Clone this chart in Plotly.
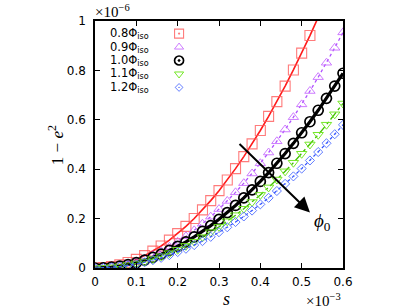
import plotly.graph_objects as go

# ---- data (s in units of 1e-3, 1-e^2 in units of 1e-6) ----
s = [0.00, 0.02, 0.04, 0.06, 0.08, 0.10, 0.12, 0.14, 0.16, 0.18, 0.20,
     0.22, 0.24, 0.26, 0.28, 0.30, 0.32, 0.34, 0.36, 0.38, 0.40,
     0.42, 0.44, 0.46, 0.48, 0.50, 0.52, 0.54, 0.56, 0.58, 0.60]

y08 = [0.0, 0.0014, 0.0056, 0.0125, 0.0223, 0.0348, 0.0501, 0.0682, 0.0891, 0.1128, 0.1392,
       0.1684, 0.2004, 0.2352, 0.2728, 0.3132, 0.3564, 0.4023, 0.4510, 0.5025, 0.5568,
       0.6139, 0.6737, 0.7364, 0.8018, 0.8700, 0.9410, 1.0148]
y09 = [0.0, 0.0011, 0.0042, 0.0095, 0.0170, 0.0265, 0.0382, 0.0519, 0.0678, 0.0859, 0.1060,
       0.1283, 0.1526, 0.1791, 0.2078, 0.2385, 0.2714, 0.3063, 0.3434, 0.3827, 0.4240,
       0.4675, 0.5130, 0.5607, 0.6106, 0.6625, 0.7166, 0.7727, 0.8310, 0.8915, 0.9540]
y10 = [0.0, 0.0009, 0.0035, 0.0079, 0.0140, 0.0219, 0.0315, 0.0429, 0.0561, 0.0710, 0.0876,
       0.1060, 0.1261, 0.1480, 0.1717, 0.1971, 0.2243, 0.2532, 0.2838, 0.3162, 0.3504,
       0.3863, 0.4240, 0.4634, 0.5046, 0.5475, 0.5922, 0.6386, 0.6868, 0.7367, 0.7884]
y11 = [0.0, 0.0007, 0.0030, 0.0067, 0.0118, 0.0185, 0.0266, 0.0363, 0.0474, 0.0599, 0.0740,
       0.0895, 0.1066, 0.1251, 0.1450, 0.1665, 0.1894, 0.2139, 0.2398, 0.2671, 0.2960,
       0.3263, 0.3582, 0.3915, 0.4262, 0.4625, 0.5002, 0.5395, 0.5802, 0.6223, 0.6660]
y12 = [0.0, 0.0006, 0.0026, 0.0058, 0.0103, 0.0161, 0.0232, 0.0316, 0.0412, 0.0522, 0.0644,
       0.0779, 0.0927, 0.1088, 0.1262, 0.1449, 0.1649, 0.1861, 0.2087, 0.2325, 0.2576,
       0.2840, 0.3117, 0.3407, 0.3709, 0.4025, 0.4353, 0.4695, 0.5049, 0.5416, 0.5796]

labels = ["0.8Φ<sub>iso</sub>", "0.9Φ<sub>iso</sub>", "1.0Φ<sub>iso</sub>",
          "1.1Φ<sub>iso</sub>", "1.2Φ<sub>iso</sub>"]
x_ticks = [0, 0.1, 0.2, 0.3, 0.4, 0.5, 0.6]
x_ticktext = ["0", "0.1", "0.2", "0.3", "0.4", "0.5", "0.6"]
y_ticks = [0, 0.2, 0.4, 0.6, 0.8, 1.0]
y_ticktext = ["0", "0.2", "0.4", "0.6", "0.8", "1"]

# ---- styles ----
series = [
    dict(y=y08, nmark=27, lc="#ff1a1a", lw=1.6, dash="solid", mc="rgba(255,90,90,0.8)",
         sym="square-open", ms=10, mw=1.1),
    dict(y=y09, nmark=31, lc="#b050ff", lw=1.3, dash="dot", mc="rgba(200,110,255,0.9)",
         sym="triangle-up-open", ms=9, mw=1.0),
    dict(y=y10, nmark=31, lc="#000000", lw=3.2, dash="solid", mc="#000000",
         sym="circle-open", ms=10, mw=1.7),
    dict(y=y11, nmark=31, lc="#40c000", lw=1.3, dash="dashdot", mc="rgba(110,230,30,0.95)",
         sym="triangle-down-open", ms=9, mw=1.0),
    dict(y=y12, nmark=31, lc="#3050ff", lw=1.2, dash="dot", mc="rgba(80,110,255,0.9)",
         sym="diamond-open-dot", ms=7, mw=1.0),
]
leg_syms = ["square-open-dot", "triangle-up-open", "circle-open-dot",
            "triangle-down-open", "diamond-open-dot"]

sans = "DejaVu Sans"
serif = "Liberation Serif"

fig = go.Figure()
for st in series:
    n = len(st["y"])
    fig.add_trace(go.Scatter(x=s[:n], y=st["y"], mode="lines",
                             line=dict(color=st["lc"], width=st["lw"], dash=st["dash"]),
                             showlegend=False, hoverinfo="skip"))
    k = st["nmark"]
    fig.add_trace(go.Scatter(x=s[:k], y=st["y"][:k], mode="markers",
                             marker=dict(symbol=st["sym"], size=st["ms"],
                                         color=st["mc"], line=dict(width=st["mw"], color=st["mc"])),
                             showlegend=False, hoverinfo="skip"))

# legend markers on a hidden overlay axis (0..1 both ways = plot area)
leg_x = 0.339
leg_top = 0.949
leg_step = 0.0545
for i, st in enumerate(series):
    fig.add_trace(go.Scatter(x=[leg_x], y=[leg_top - i * leg_step], mode="markers",
                             xaxis="x2", yaxis="y2",
                             marker=dict(symbol=leg_syms[i], size=st["ms"] - 1,
                                         color=st["mc"], line=dict(width=st["mw"], color=st["mc"])),
                             showlegend=False, hoverinfo="skip"))
    fig.add_annotation(x=0.226, y=leg_top - i * leg_step, xref="x2", yref="y2",
                       text=labels[i], showarrow=False, xanchor="right", yanchor="middle",
                       font=dict(family=sans, size=11.5, color="black"))

axis_common = dict(showline=True, linecolor="black", linewidth=1.5, mirror="allticks",
                   ticks="inside", ticklen=5, tickwidth=1, tickcolor="black",
                   showgrid=False, zeroline=False,
                   tickfont=dict(family=sans, size=12, color="black"))

fig.update_layout(
    width=416, height=308,
    margin=dict(l=95, r=73, t=21, b=40),
    paper_bgcolor="white", plot_bgcolor="white",
    xaxis=dict(range=[0, 0.6], tickvals=x_ticks, ticktext=x_ticktext,
               ticklabelstandoff=2, **axis_common),
    yaxis=dict(range=[0, 1], tickvals=y_ticks, ticktext=y_ticktext,
               ticklabelstandoff=5, **axis_common),
    xaxis2=dict(range=[0, 1], overlaying="x", visible=False),
    yaxis2=dict(range=[0, 1], overlaying="y", visible=False),
)

# pixel -> paper helpers (plot area: x 95..343, y 21..267.7)
def px(xp):
    return (xp - 95) / 248.0

def py(yp):
    return (267.7 - yp) / 246.7

# arrow
fig.add_annotation(x=0.52, y=0.225, ax=0.346, ay=0.508, xref="x", yref="y",
                   axref="x", ayref="y", showarrow=True, arrowhead=2, arrowsize=1.5,
                   arrowwidth=2, arrowcolor="black", text="")
fig.add_annotation(x=px(322), y=py(222), xref="paper", yref="paper", text="<i>ϕ</i><sub>0</sub>",
                   xanchor="center", yanchor="middle",
                   showarrow=False, font=dict(family=serif, size=19, color="black"))
# exponent labels
fig.add_annotation(x=px(93), y=py(11), xref="paper", yref="paper",
                   xanchor="left", yanchor="middle", text="×10<sup>−6</sup>",
                   showarrow=False, font=dict(family=serif, size=15, color="black"))
fig.add_annotation(x=px(304), y=py(299.5), xref="paper", yref="paper",
                   xanchor="left", yanchor="middle", text="×10<sup>−3</sup>",
                   showarrow=False, font=dict(family=serif, size=15, color="black"))
# axis titles
fig.add_annotation(x=px(226), y=py(299), xref="paper", yref="paper",
                   xanchor="center", yanchor="middle",
                   text="<i>s</i>", showarrow=False,
                   font=dict(family=serif, size=18, color="black"))
fig.add_annotation(x=px(56), y=py(145), xref="paper", yref="paper",
                   xanchor="center", yanchor="middle",
                   text="1 − <i>e</i><sup>2</sup>", textangle=-90, showarrow=False,
                   font=dict(family=serif, size=17, color="black"))

fig.write_html("out.html", config={"displayModeBar": False},
               post_script="document.body.style.margin='0';")
